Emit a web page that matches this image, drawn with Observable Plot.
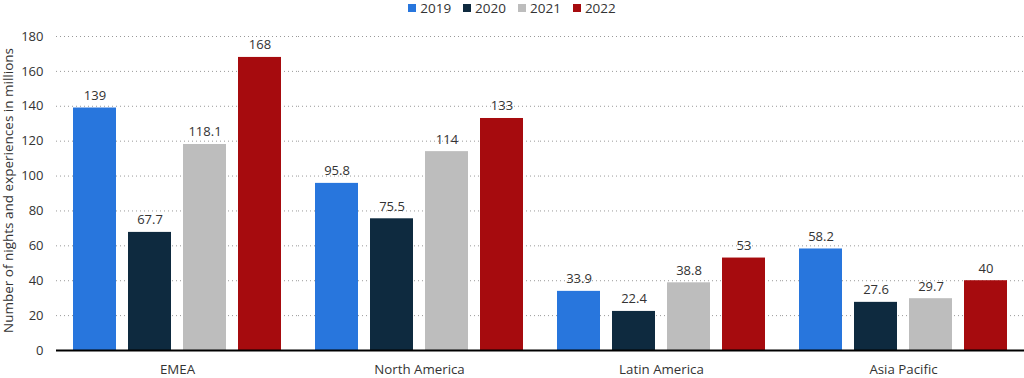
<!DOCTYPE html>
<html>
<head>
<meta charset="utf-8">
<script src="https://cdn.jsdelivr.net/npm/d3@7"></script>
<script src="https://cdn.jsdelivr.net/npm/@observablehq/plot@0.6"></script>
<style>
  body { margin: 0; background: #fff; font-family: "Open Sans", sans-serif; }
  #legend { display: flex; justify-content: center; align-items: flex-start; height: 22px; line-height: 16px; font-size: 13.5px; color: #333; gap: 12px; padding-left: 0px; box-sizing: border-box; }
  #legend span.item { display: flex; align-items: center; }
  #legend span.sw { display: inline-block; width: 8px; height: 8px; margin-right: 4px; }
</style>
</head>
<body>
<div id="legend"></div>
<div id="chart"></div>
<script>
const regions = ["EMEA", "North America", "Latin America", "Asia Pacific"];
const years = ["2019", "2020", "2021", "2022"];
const colors = ["#2876dd", "#0e2a3f", "#bdbdbd", "#a60b0e"];
const values2019 = [139, 95.8, 33.9, 58.2];
const values2020 = [67.7, 75.5, 22.4, 27.6];
const values2021 = [118.1, 114, 38.8, 29.7];
const values2022 = [168, 133, 53, 40];
const yTicks = [0, 20, 40, 60, 80, 100, 120, 140, 160, 180];
const yLabel = "Number of nights and experiences in millions";

const series = [values2019, values2020, values2021, values2022];
const data = [];
regions.forEach((r, i) => years.forEach((y, j) => data.push({region: r, year: y, value: series[j][i]})));

const legend = document.getElementById("legend");
years.forEach((y, j) => {
  const it = document.createElement("span");
  it.className = "item";
  it.innerHTML = `<span class="sw" style="background:${colors[j]}"></span>${y}`;
  legend.appendChild(it);
});

const chart = Plot.plot({
  width: 1024,
  height: 356,
  marginLeft: 56,
  marginRight: 0,
  marginTop: 14,
  marginBottom: 28,
  style: { fontFamily: "Open Sans", fontSize: "13px", color: "#333" },
  fx: { domain: regions, padding: 0 },
  x: { domain: years, paddingInner: 0.218, paddingOuter: 0.294, axis: null },
  y: { domain: [0, 180] },
  color: { domain: years, range: colors },
  marks: [
    Plot.gridY(yTicks, { stroke: "#999", strokeOpacity: 1, strokeDasharray: "1,3" }),
    Plot.barY(data, { fx: "region", x: "year", y: "value", fill: "year" }),
    Plot.text(data, { fx: "region", x: "year", y: "value", text: d => String(d.value), dy: -8, lineAnchor: "bottom", fill: "#333", fontSize: 13 }),
    Plot.ruleY([0], { stroke: "#000", strokeWidth: 2 }),
    Plot.axisY({ ticks: yTicks, tickSize: 0, tickPadding: 13, fontSize: 13, label: null }),
    Plot.axisFx({ anchor: "bottom", tickSize: 0, tickPadding: 14, label: null, fontSize: 13.3 }),
    Plot.text([yLabel], { frameAnchor: "left", textAnchor: "middle", dx: -48, dy: -3, rotate: -90, fontSize: 13.5, fill: "#333", facet: "super" })
  ]
});
document.getElementById("chart").appendChild(chart);
</script>
</body>
</html>
